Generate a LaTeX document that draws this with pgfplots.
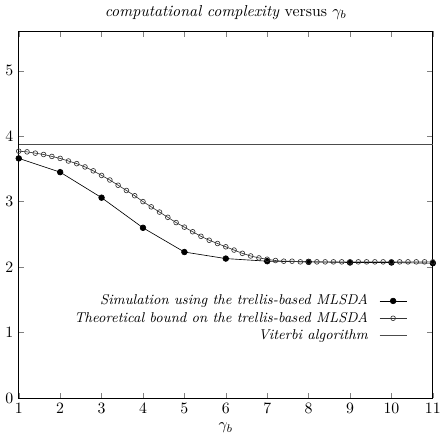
\documentclass[border=0pt]{standalone}
\usepackage{pgfplots}
\pgfplotsset{compat=1.18}
\begin{document}
\begin{tikzpicture}
\begin{axis}[
  scale only axis,
  width=262pt, height=232pt,
  xmin=1, xmax=11, ymin=0, ymax=5.6,
  xtick={1,2,...,11}, ytick={0,1,2,3,4,5},
  tick align=inside,
  xtick pos=both, ytick pos=both,
  xticklabel pos=bottom, yticklabel pos=left,
  major tick length=3.5pt,
  axis line style={line width=0.6pt},
  title={\textit{computational complexity} versus $\gamma_b$},
  title style={yshift=-2pt},
  xlabel={$\gamma_b$},
  xlabel style={yshift=1pt},
  legend style={draw=none, fill=none, at={(0.95,0.3)}, anchor=north east, font=\small, row sep=-1pt,
    /tikz/every odd column/.append style={column sep=5pt}},
  legend cell align=right,
  legend plot pos=right,
]
\addplot[black, mark=*, mark size=1.8pt] coordinates {
(1,3.66) (2,3.45) (3,3.06) (4,2.60) (5,2.23) (6,2.13) (7,2.09) (8,2.08) (9,2.07) (10,2.07) (11,2.06)
};
\addlegendentry{\textit{Simulation using the trellis-based MLSDA}}
\addplot[black!80, mark=o, mark size=1.5pt, mark options={black!80}] coordinates {
(1.0,3.77) (1.2,3.76) (1.4,3.74) (1.6,3.72) (1.8,3.69) (2.0,3.66) (2.2,3.62) (2.4,3.58) (2.6,3.53) (2.8,3.47)
(3.0,3.40) (3.2,3.33) (3.4,3.25) (3.6,3.17) (3.8,3.09) (4.0,3.00) (4.2,2.92) (4.4,2.84) (4.6,2.76) (4.8,2.68)
(5.0,2.61) (5.2,2.54) (5.4,2.47) (5.6,2.41) (5.8,2.36) (6.0,2.31) (6.2,2.26) (6.4,2.21) (6.6,2.17) (6.8,2.14)
(7.0,2.12) (7.2,2.10) (7.4,2.09) (7.6,2.09) (7.8,2.08) (8.0,2.08) (8.2,2.08) (8.4,2.08) (8.6,2.08) (8.8,2.08)
(9.0,2.08) (9.2,2.08) (9.4,2.08) (9.6,2.08) (9.8,2.08) (10.0,2.08) (10.2,2.08) (10.4,2.08) (10.6,2.08) (10.8,2.08) (11.0,2.08)
};
\addlegendentry{\textit{Theoretical bound on the trellis-based MLSDA}}
\addplot[black!70, line width=0.6pt] coordinates {(1,3.875) (11,3.875)};
\addlegendentry{\textit{Viterbi algorithm}}
\end{axis}
\end{tikzpicture}
\end{document}
